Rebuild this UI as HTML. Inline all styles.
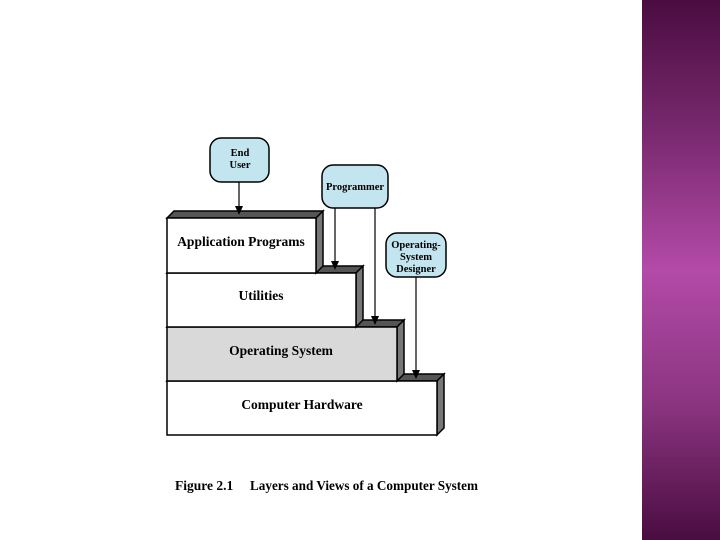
<!DOCTYPE html>
<html><head><style>
body{margin:0;width:720px;height:540px;overflow:hidden;background:#fff;position:relative;font-family:"Liberation Serif",serif}
.band{position:absolute;left:642px;top:0;width:78px;height:540px;background:linear-gradient(to bottom,#4a0d40 0%,#7a2a70 25%,#b34aa8 50%,#8a3480 75%,#4a0d40 100%)}
</style></head><body>
<div class="band"></div>
<svg width="720" height="540" style="position:absolute;left:0;top:0" font-family="Liberation Serif" font-weight="bold">
<g stroke="#000" stroke-width="1.5">
<polygon points="167,381 174,374 444,374 437,381" fill="#555"/>
<polygon points="437,381 444,374 444,428 437,435" fill="#777"/>
<rect x="167" y="381" width="270" height="54" fill="#fff"/>
<polygon points="167,327 174,320 404,320 397,327" fill="#555"/>
<polygon points="397,327 404,320 404,374 397,381" fill="#777"/>
<rect x="167" y="327" width="230" height="54" fill="#d9d9d9"/>
<polygon points="167,273 174,266 363,266 356,273" fill="#555"/>
<polygon points="356,273 363,266 363,320 356,327" fill="#777"/>
<rect x="167" y="273" width="189" height="54" fill="#fff"/>
<polygon points="167,218 174,211 323,211 316,218" fill="#555"/>
<polygon points="316,218 323,211 323,266 316,273" fill="#777"/>
<rect x="167" y="218" width="149" height="55" fill="#fff"/>
<rect x="210" y="138" width="59" height="44" rx="11" fill="#c2e5ef"/>
<rect x="322" y="165" width="66" height="43" rx="11" fill="#c2e5ef"/>
<rect x="386" y="233" width="60" height="44" rx="11" fill="#c2e5ef"/>
</g>
<g stroke="#000" stroke-width="1.2">
<line x1="239" y1="182" x2="239" y2="206" /><line x1="335" y1="208" x2="335" y2="261"/>
<line x1="375" y1="208" x2="375" y2="316"/><line x1="416" y1="277" x2="416" y2="370"/>
</g>
<g fill="#000">
<path d="M235,206 L243,206 L239,215 Z"/><path d="M331,261 L339,261 L335,270 Z"/>
<path d="M371,316 L379,316 L375,325 Z"/><path d="M412,370 L420,370 L416,379 Z"/>
</g>
<g font-size="13.5" text-anchor="middle">
<text x="241" y="246">Application Programs</text>
<text x="261" y="300">Utilities</text>
<text x="281" y="355">Operating System</text>
<text x="302" y="409">Computer Hardware</text>
</g>
<g font-size="10.5" text-anchor="middle">
<text x="240" y="156">End</text><text x="240" y="168">User</text>
<text x="355" y="190">Programmer</text>
<text x="416" y="248">Operating-</text><text x="416" y="260">System</text><text x="416" y="272">Designer</text>
</g>
<text x="175" y="490" font-size="13.5">Figure 2.1</text>
<text x="250" y="490" font-size="13.5" textLength="228" lengthAdjust="spacingAndGlyphs">Layers and Views of a Computer System</text>
</svg>
</body></html>
